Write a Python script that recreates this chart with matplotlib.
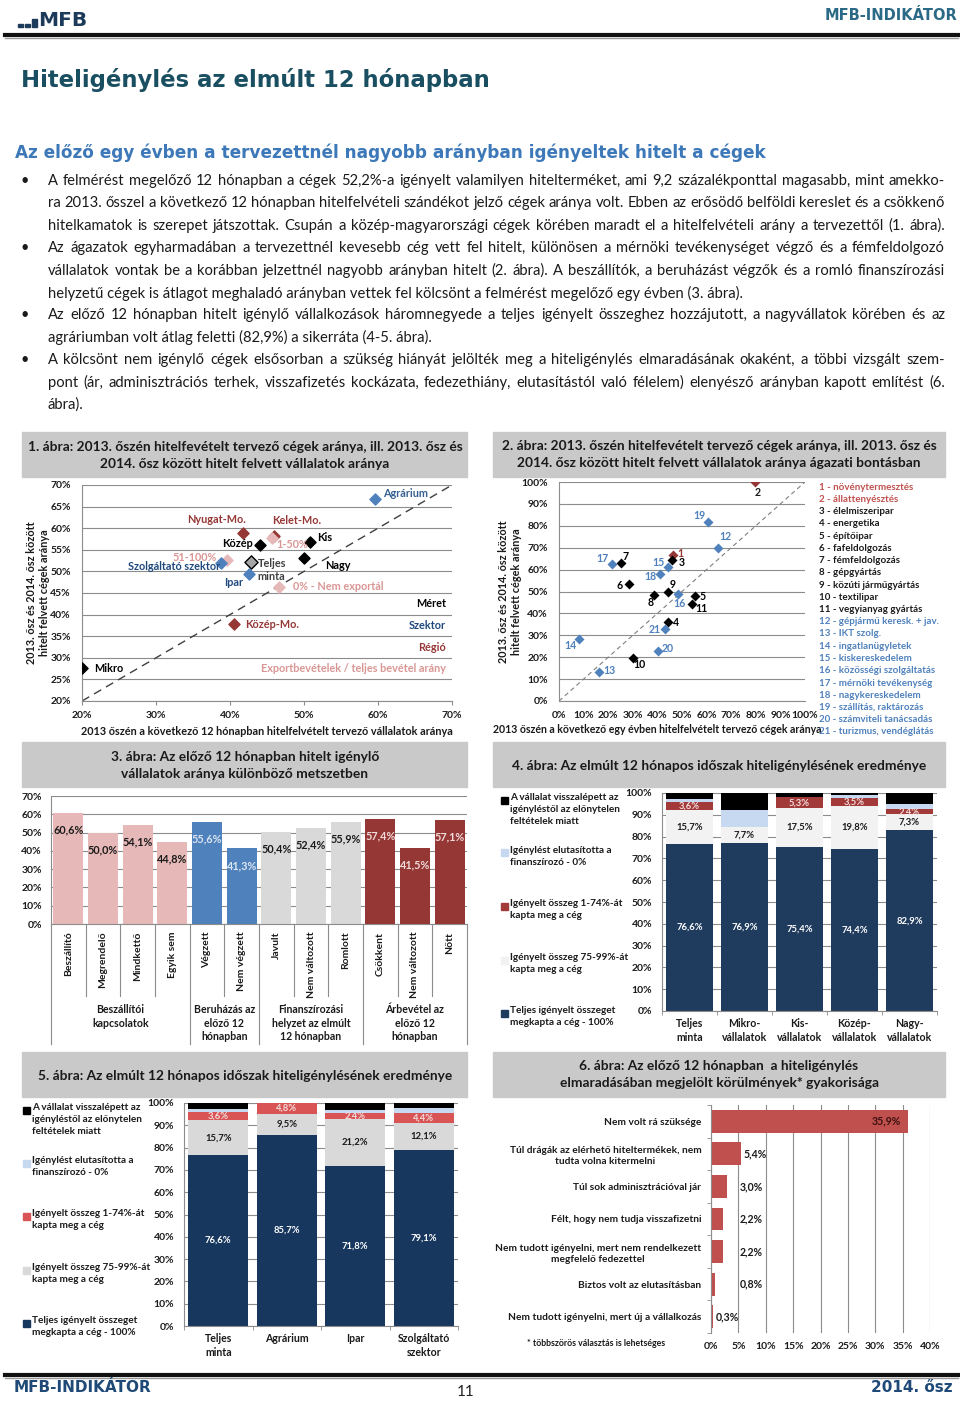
import numpy as np
import matplotlib.pyplot as plt
from matplotlib.patches import Rectangle
from matplotlib.lines import Line2D
from matplotlib.transforms import blended_transform_factory

W, H = 960, 1401

# ---- 1. ábra: régió / méret / szektor / export
c1_names = ['Agrárium', 'Nyugat-Mo.', 'Kelet-Mo.', '1-50%', 'Közép', 'Kis', 'Nagy', '51-100%',
            'Szolgáltató szektor', 'Teljes\nminta', 'Ipar', '0% - Nem exportál', 'Közép-Mo.', 'Mikro']
c1_x = [59.6, 41.8, 45.9, 45.7, 44.0, 50.8, 50.0, 39.6, 38.8, 42.8, 42.6, 46.6, 40.6, 20.0]
c1_y = [66.7, 59.0, 58.2, 57.8, 56.1, 56.8, 53.2, 52.6, 51.9, 52.1, 49.4, 46.5, 37.8, 27.6]
c1_group = ['Szektor', 'Régió', 'Régió', 'Export', 'Méret', 'Méret', 'Méret', 'Export',
            'Szektor', 'Teljes', 'Szektor', 'Export', 'Régió', 'Méret']

# ---- 2. ábra: ágazatok
c2_ids = list(range(1, 22))
c2_x = [46.2, 79.7, 45.9, 44.2, 55.1, 28.6, 25.1, 38.8, 44.4, 29.9, 54.1,
        64.5, 16.4, 8.0, 44.4, 48.5, 21.4, 41.1, 60.7, 40.1, 43.0]
c2_y = [66.6, 100.0, 64.2, 36.1, 48.0, 53.2, 63.0, 48.6, 49.8, 19.8, 44.5,
        70.0, 13.3, 28.4, 61.3, 48.8, 62.5, 57.9, 81.7, 23.0, 33.1]
c2_names = ['növénytermesztés', 'állattenyésztés', 'élelmiszeripar', 'energetika', 'építőipar',
            'fafeldolgozás', 'fémfeldolgozás', 'gépgyártás', 'közúti járműgyártás', 'textilipar',
            'vegyianyag gyártás', 'gépjármű keresk. + jav.', 'IKT szolg.', 'ingatlanügyletek',
            'kiskereskedelem', 'közösségi szolgáltatás', 'mérnöki tevékenység', 'nagykereskedelem',
            'szállítás, raktározás', 'számviteli tanácsadás', 'turizmus, vendéglátás']

# ---- 3. ábra
c3_cats = ['Beszállító', 'Megrendelő', 'Mindkettő', 'Egyik sem', 'Végzett', 'Nem végzett',
           'Javult', 'Nem változott', 'Romlott', 'Csökkent', 'Nem változott', 'Nőtt']
c3_vals = [60.6, 50.0, 54.1, 44.8, 55.6, 41.3, 50.4, 52.4, 55.9, 57.4, 41.5, 57.1]
c3_groups = ['Beszállítói\nkapcsolatok', 'Beruházás az\nelőző 12\nhónapban',
             'Finanszírozási\nhelyzet az elmúlt\n12 hónapban', 'Árbevétel az\nelőző 12\nhónapban']
c3_group_size = [4, 2, 3, 3]

# ---- 4. ábra (méret szerint)
c4_cats = ['Teljes\nminta', 'Mikro-\nvállalatok', 'Kis-\nvállalatok', 'Közép-\nvállalatok', 'Nagy-\nvállalatok']
c4_full = [76.6, 76.9, 75.4, 74.4, 82.9]
c4_most = [15.7, 7.7, 17.5, 19.8, 7.3]
c4_part = [3.6, 0.0, 5.3, 3.5, 2.4]
c4_rej = [1.5, 7.7, 0.0, 1.3, 2.4]
c4_back = [2.6, 7.7, 1.8, 1.0, 5.0]

# ---- 5. ábra (szektor szerint)
c5_cats = ['Teljes\nminta', 'Agrárium', 'Ipar', 'Szolgáltató\nszektor']
c5_full = [76.6, 85.7, 71.8, 79.1]
c5_most = [15.7, 9.5, 21.2, 12.1]
c5_part = [3.6, 4.8, 2.4, 4.4]
c5_rej = [1.5, 0.0, 1.5, 2.0]
c5_back = [2.6, 0.0, 3.1, 2.4]

leg_texts = ['A vállalat visszalépett az\nigényléstől az előnytelen\nfeltételek miatt',
             'Igénylést elutasította a\nfinanszírozó - 0%',
             'Igényelt összeg 1-74%-át\nkapta meg a cég',
             'Igényelt összeg 75-99%-át\nkapta meg a cég',
             'Teljes igényelt összeget\nmegkapta a cég - 100%']

# ---- 6. ábra
c6_cats = ['Nem volt rá szüksége',
           'Túl drágák az elérhető hiteltermékek, nem\ntudta volna kitermelni',
           'Túl sok adminisztrációval jár',
           'Félt, hogy nem tudja visszafizetni',
           'Nem tudott igényelni, mert nem rendelkezett\nmegfelelő fedezettel',
           'Biztos volt az elutasításban',
           'Nem tudott igényelni, mert új a vállalkozás']
c6_vals = [35.9, 5.4, 3.0, 2.2, 2.2, 0.8, 0.3]

body = [
    ("A felmérést megelőző 12 hónapban a cégek 52,2%-a igényelt valamilyen hitelterméket, ami 9,2 százalékponttal magasabb, mint amekko-", True, True),
    ("ra 2013. ősszel a következő 12 hónapban hitelfelvételi szándékot jelző cégek aránya volt. Ebben az erősödő belföldi kereslet és a csökkenő", False, True),
    ("hitelkamatok is szerepet játszottak. Csupán a közép-magyarországi cégek körében maradt el a hitelfelvételi arány a tervezettől (1. ábra).", False, True),
    ("Az ágazatok egyharmadában a tervezettnél kevesebb cég vett fel hitelt, különösen a mérnöki tevékenységet végző és a fémfeldolgozó", True, True),
    ("vállalatok vontak be a korábban jelzettnél nagyobb arányban hitelt (2. ábra). A beszállítók, a beruházást végzők és a romló finanszírozási", False, True),
    ("helyzetű cégek is átlagot meghaladó arányban vettek fel kölcsönt a felmérést megelőző egy évben (3. ábra).", False, False),
    ("Az előző 12 hónapban hitelt igénylő vállalkozások háromnegyede a teljes igényelt összeghez hozzájutott, a nagyvállatok körében és az", True, True),
    ("agráriumban volt átlag feletti (82,9%) a sikerráta (4-5. ábra).", False, False),
    ("A kölcsönt nem igénylő cégek elsősorban a szükség hiányát jelölték meg a hiteligénylés elmaradásának okaként, a többi vizsgált szem-", True, True),
    ("pont (ár, adminisztrációs terhek, visszafizetés kockázata, fedezethiány, elutasítástól való félelem) elenyésző arányban kapott említést (6.", False, True),
    ("ábra).", False, False),
]

plt.rcParams['font.family'] = ['Lato', 'DejaVu Sans']
plt.rcParams['font.weight'] = 'bold'
plt.rcParams['axes.linewidth'] = 0.8

fig = plt.figure(figsize=(W / 100, H / 100), dpi=100)
fig.patch.set_facecolor('white')
rend = fig.canvas.get_renderer()


def box(x0, y0, x1, y1):
    return fig.add_axes([x0 / W, 1 - y1 / H, (x1 - x0) / W, (y1 - y0) / H])


def txt(x, y, s, **kw):
    return fig.text(x / W, 1 - y / H, s, **kw)


def panel(x0, y0, x1, y1, color='#c9c9c9'):
    fig.patches.append(Rectangle((x0 / W, 1 - y1 / H), (x1 - x0) / W, (y1 - y0) / H,
                                 transform=fig.transFigure, color=color, zorder=0))


def hline(x0, x1, y, lw, color):
    fig.lines.append(Line2D([x0 / W, x1 / W], [1 - y / H, 1 - y / H],
                            transform=fig.transFigure, lw=lw, color=color))


def pct(v):
    return f"{v:.1f}".replace('.', ',') + '%'


# ---------------- header / footer
head = '#1c3a5a'
for bx, bh in [(18, 3), (25, 3), (32, 8)]:
    fig.patches.append(Rectangle((bx / W, 1 - 27 / H), 5 / W, bh / H, transform=fig.transFigure, color=head))
txt(38, 21, 'MFB', fontsize=14.5, color=head, family='DejaVu Sans', weight='bold', va='center')
txt(957, 16, 'MFB-INDIKÁTOR', fontsize=10.5, color='#2b6a86', family='DejaVu Sans', weight='bold',
    ha='right', va='center')
hline(5, 958, 35, 3.0, '#111111')
hline(5, 958, 37.5, 1.0, '#9a9a9a')

txt(21, 80, 'Hiteligénylés az elmúlt 12 hónapban', fontsize=16.4, color='#1a4f62',
    family='DejaVu Sans', weight='bold', va='center')
txt(15, 153, 'Az előző egy évben a tervezettnél nagyobb arányban igényeltek hitelt a cégek',
    fontsize=12.2, color='#3d78b9', family='DejaVu Sans', weight='bold', va='center')

# body text with justification
bx0, bx1 = 48, 945
for i, (line, bullet, just) in enumerate(body):
    y = 181 + i * 22.4
    if bullet:
        txt(20, y, '•', fontsize=10.5, color='#1a1a1a', weight='normal', va='center')
    if not just:
        txt(bx0, y, line, fontsize=10.6, color='#1a1a1a', weight='normal', va='center')
        continue
    words = line.split(' ')
    objs = [txt(0, y, w, fontsize=10.6, color='#1a1a1a', weight='normal', va='center') for w in words]
    widths = [o.get_window_extent(rend).width for o in objs]
    gap = (bx1 - bx0 - sum(widths)) / (len(words) - 1)
    xx = bx0
    for o, w in zip(objs, widths):
        o.set_x(xx / W)
        xx += w + gap

hline(5, 958, 1375, 3.0, '#111111')
hline(5, 958, 1377.5, 1.0, '#9a9a9a')
txt(14, 1388, 'MFB-INDIKÁTOR', fontsize=11, color='#1f4a78', family='DejaVu Sans', weight='bold', va='center')
txt(466, 1392, '11', fontsize=11, color='#222222', weight='normal', ha='center', va='center')
txt(953, 1388, '2014. ősz', fontsize=11, color='#1f4a78', family='DejaVu Sans', weight='bold',
    ha='right', va='center')

# ---------------- chart title panels
tfs = 9.9
panel(22, 432, 467, 477)
txt(245, 447, '1. ábra: 2013. őszén hitelfevételt tervező cégek aránya, ill. 2013. ősz és', fontsize=tfs, ha='center', va='center', color='#1a1a1a')
txt(245, 464, '2014. ősz között hitelt felvett vállalatok aránya', fontsize=tfs, ha='center', va='center', color='#1a1a1a')
panel(493, 432, 945, 477)
txt(719, 446, '2. ábra: 2013. őszén hitelfevételt tervező cégek aránya, ill. 2013. ősz és', fontsize=tfs, ha='center', va='center', color='#1a1a1a')
txt(719, 463, '2014. ősz között hitelt felvett vállalatok aránya ágazati bontásban', fontsize=tfs, ha='center', va='center', color='#1a1a1a')
panel(22, 742, 467, 787)
txt(245, 757, '3. ábra: Az előző 12 hónapban hitelt igénylő', fontsize=tfs, ha='center', va='center', color='#1a1a1a')
txt(245, 774, 'vállalatok aránya különböző metszetben', fontsize=tfs, ha='center', va='center', color='#1a1a1a')
panel(493, 742, 945, 787)
txt(719, 766, '4. ábra: Az elmúlt 12 hónapos időszak hiteligénylésének eredménye', fontsize=tfs, ha='center', va='center', color='#1a1a1a')
panel(22, 1052, 467, 1097)
txt(245, 1076, '5. ábra: Az elmúlt 12 hónapos időszak hiteligénylésének eredménye', fontsize=tfs, ha='center', va='center', color='#1a1a1a')
panel(493, 1052, 945, 1097)
txt(719, 1066, '6. ábra: Az előző 12 hónapban  a hiteligénylés', fontsize=tfs, ha='center', va='center', color='#1a1a1a')
txt(719, 1083, 'elmaradásában megjelölt körülmények* gyakorisága', fontsize=tfs, ha='center', va='center', color='#1a1a1a')

grid_c = '#8c8c8c'


def style(ax):
    ax.set_facecolor('none')
    for s in ['top', 'right']:
        ax.spines[s].set_visible(False)
    for s in ['left', 'bottom']:
        ax.spines[s].set_color(grid_c)
    ax.tick_params(colors=grid_c, labelcolor='#1a1a1a', labelsize=7.5, length=3, width=0.8)


# ---------------- 1. ábra
ax1 = box(82, 485, 452, 701)
style(ax1)
mcol = {'Méret': '#000000', 'Szektor': '#4f81bd', 'Régió': '#953735', 'Export': '#e6b9b8', 'Teljes': '#a6a6a6'}
tcol = {'Méret': '#000000', 'Szektor': '#1f497d', 'Régió': '#953735', 'Export': '#d99694', 'Teljes': '#404040'}
c1_off = [(8, 6, 'left'), (-27, 13, 'center'), (23, 15, 'center'), (4, -7, 'left'), (-7, 2, 'right'),
          (7, 5, 'left'), (21, -8, 'left'), (-10, 3, 'right'), (-1, -3, 'right'), (7, -8, 'left'),
          (-6, -9, 'right'), (14, 0, 'left'), (11, 0, 'left'), (12, 0, 'left')]
ax1.plot([20, 70], [20, 70], ls=(0, (6, 4)), color='#404040', lw=1.0, zorder=1)
for n, x, y, g, (dx, dy, ha) in zip(c1_names, c1_x, c1_y, c1_group, c1_off):
    ec = '#000000' if g == 'Teljes' else mcol[g]
    sz = 45 if g == 'Teljes' else 32
    lc = '#376092' if n == 'Agrárium' else tcol[g]
    ax1.scatter([x], [y], marker='D', s=sz, color=mcol[g], edgecolor=ec, linewidth=1.0, zorder=3)
    ax1.annotate(n, (x, y), xytext=(dx, dy), textcoords='offset pixels', ha=ha, va='center',
                 fontsize=7.8, color=lc, zorder=4)
for lab, gy, g in [('Méret', 42.6, 'Méret'), ('Szektor', 37.4, 'Szektor'), ('Régió', 32.3, 'Régió'),
                   ('Exportbevételek / teljes bevétel arány', 27.5, 'Export')]:
    ax1.text(69.2, gy, lab, ha='right', va='center', fontsize=7.8, color=tcol[g])
ax1.set_xlim(20, 70)
ax1.set_ylim(20, 70)
ax1.set_xticks(np.arange(20, 71, 10))
ax1.set_xticklabels([f'{v}%' for v in range(20, 71, 10)])
ax1.set_yticks(np.arange(20, 71, 5))
ax1.set_yticklabels([f'{v}%' for v in range(20, 71, 5)])
ax1.tick_params(axis='y', length=0, pad=8)
ax1.tick_params(axis='x', pad=4)
ax1.yaxis.grid(True, color=grid_c, lw=0.8)
ax1.set_axisbelow(True)
txt(38, 593, '2013. ősz és 2014. ősz között\nhitelt felvett cégek aránya', rotation=90, fontsize=7.8,
    ha='center', va='center', color='#1a1a1a', linespacing=1.15)
txt(267, 732, '2013 őszén a következő 12 hónapban hitelfelvételt tervező vállalatok aránya', fontsize=7.8,
    ha='center', va='center', color='#1a1a1a')

# ---------------- 2. ábra
ax2 = box(559, 482, 805, 701)
style(ax2)
ax2.plot([0, 100], [0, 100], ls=(0, (4, 3)), color='#7f7f7f', lw=0.8, zorder=1)
c2_off = [(8, 2), (3, -10), (10, -2), (8, -1), (8, -1), (-10, -1), (5, 7), (-4, -8), (4, 7), (7, -7),
          (9, -5), (8, 11), (10, 1), (-8, -7), (-10, 4), (1, -9), (-9, 6), (-10, -2), (-9, 7), (10, 2), (-10, -1)]
for i, x, y, (dx, dy) in zip(c2_ids, c2_x, c2_y, c2_off):
    if i <= 2:
        mc, lc = '#953735', ('#953735' if i == 1 else '#1a1a1a')
    elif i <= 11:
        mc, lc = '#000000', '#000000'
    else:
        mc, lc = '#4f81bd', '#4f81bd'
    ax2.scatter([x], [y], marker='D', s=26, color=mc, zorder=3, linewidth=0)
    ax2.annotate(str(i), (x, y), xytext=(dx, dy), textcoords='offset pixels', ha='center', va='center',
                 fontsize=7.6, color=lc)
ax2.set_xlim(0, 100)
ax2.set_ylim(0, 100)
ax2.set_xticks(np.arange(0, 101, 10))
ax2.set_xticklabels([f'{v}%' for v in range(0, 101, 10)])
ax2.set_yticks(np.arange(0, 101, 10))
ax2.set_yticklabels([f'{v}%' for v in range(0, 101, 10)])
ax2.tick_params(axis='y', length=0, pad=8)
ax2.tick_params(axis='x', length=0, pad=7)
ax2.yaxis.grid(True, color=grid_c, lw=0.8)
ax2.set_axisbelow(True)
txt(510, 592, '2013. ősz és 2014. ősz között\nhitelt felvett cégek aránya', rotation=90, fontsize=7.8,
    ha='center', va='center', color='#1a1a1a', linespacing=1.15)
txt(657, 729, '2013 őszén a következő egy évben hitelfelvételt tervező cégek aránya', fontsize=7.6,
    ha='center', va='center', color='#1a1a1a')
for k, (i, n) in enumerate(zip(c2_ids, c2_names)):
    col = '#c0504d' if i <= 2 else ('#1a1a1a' if i <= 11 else '#4f81bd')
    txt(819, 487 + k * 12.25, f'{i} - {n}', fontsize=7.0, color=col, va='center')

# ---------------- 3. ábra
ax3 = box(51, 796, 467, 924)
style(ax3)
c3_colors = ['#e6b9b8'] * 4 + ['#4f81bd'] * 2 + ['#d9d9d9'] * 3 + ['#953735'] * 3
c3_tcol = ['#1a1a1a'] * 4 + ['#dce6f2'] * 2 + ['#1a1a1a'] * 3 + ['#f2dcdb'] * 3
xs = np.arange(len(c3_vals))
ax3.bar(xs, c3_vals, width=0.87, color=c3_colors, zorder=2)
for x, v, tc in zip(xs, c3_vals, c3_tcol):
    ax3.annotate(pct(v), (x, v), xytext=(0, -17), textcoords='offset pixels', ha='center', va='center',
                 fontsize=7.8, color=tc, zorder=3)
ax3.set_xlim(-0.5, len(c3_vals) - 0.5)
ax3.set_ylim(0, 70)
ax3.set_yticks(np.arange(0, 71, 10))
ax3.set_yticklabels([f'{v}%' for v in range(0, 71, 10)])
ax3.tick_params(axis='y', length=0, pad=6.5)
ax3.set_xticks(xs)
ax3.set_xticklabels(c3_cats, rotation=90, fontsize=7.5)
ax3.tick_params(axis='x', length=0, pad=5.5)
ax3.yaxis.grid(True, color=grid_c, lw=0.8)
ax3.set_axisbelow(True)
tr3 = blended_transform_factory(ax3.transData, ax3.transAxes)
bounds = np.cumsum([0] + c3_group_size) - 0.5
for b in np.arange(-0.5, len(c3_vals), 1.0):
    depth = 120 if np.any(np.isclose(bounds, b)) else 72
    ax3.add_line(Line2D([b, b], [0, -depth / 128], transform=tr3, color=grid_c, lw=0.8, clip_on=False))
for g, lo, hi in zip(c3_groups, bounds[:-1], bounds[1:]):
    ax3.annotate(g, ((lo + hi) / 2, 0), xycoords=tr3, xytext=(0, -80), textcoords='offset pixels',
                 ha='center', va='top', fontsize=7.6, color='#1a1a1a', linespacing=1.3)


# ---------------- 4. / 5. ábra
def stacked(ax, cats, full, most, part, rej, back, cols):
    style(ax)
    xs = np.arange(len(cats))
    bottom = np.zeros(len(cats))
    for vals, c in zip([full, most, part, rej, back], cols):
        ax.bar(xs, vals, bottom=bottom, width=0.87, color=c, zorder=2)
        bottom += np.array(vals)
    for x, f, m, p in zip(xs, full, most, part):
        ax.text(x, f / 2, pct(f), ha='center', va='center', fontsize=6.8, color='white', zorder=3)
        ax.text(x, f + m / 2, pct(m), ha='center', va='center', fontsize=6.8, color='#1a1a1a', zorder=3)
        if p > 0:
            ax.text(x, f + m + p / 2, pct(p), ha='center', va='center', fontsize=6.8, color='#f2dcdb', zorder=3)
    ax.set_xlim(-0.5, len(cats) - 0.5)
    ax.set_ylim(0, 100)
    ax.set_yticks(np.arange(0, 101, 10))
    ax.set_yticklabels([f'{v}%' for v in range(0, 101, 10)])
    ax.tick_params(axis='y', length=0, pad=7)
    ax.set_xticks(xs)
    ax.set_xticklabels(cats, fontsize=7.6, linespacing=1.3)
    ax.set_xticks(np.arange(-0.5, len(cats), 1.0), minor=True)
    ax.tick_params(axis='x', which='major', length=0, pad=5)
    ax.tick_params(axis='x', which='minor', length=3, color=grid_c)
    ax.yaxis.grid(True, color=grid_c, lw=0.8)
    ax.set_axisbelow(True)


def legend_block(x, y0, cols):
    ys = [0, 53, 106, 160, 213]
    for t, c, dy in zip(leg_texts, cols[::-1], ys):
        fig.patches.append(Rectangle(((x - 3.5) / W, 1 - (y0 + dy + 3.5) / H), 7 / W, 7 / H,
                                     transform=fig.transFigure, color=c))
        txt(x + 6, y0 + dy - 7, t, fontsize=7.2, color='#1a1a1a', va='top', linespacing=1.4)


c4_cols = ['#1f3b5e', '#f2f2f2', '#a33a3a', '#c6d9f1', '#000000']
ax4 = box(662, 793, 937, 1011)
stacked(ax4, c4_cats, c4_full, c4_most, c4_part, c4_rej, c4_back, c4_cols)
legend_block(504, 800, c4_cols)

c5_cols = ['#17375e', '#d9d9d9', '#d95555', '#c6d9f1', '#000000']
ax5 = box(184, 1103, 458, 1326)
stacked(ax5, c5_cats, c5_full, c5_most, c5_part, c5_rej, c5_back, c5_cols)
legend_block(26, 1110, c5_cols)

# ---------------- 6. ábra
ax6 = box(711, 1105, 930, 1333)
style(ax6)
ys = np.arange(len(c6_vals))
ax6.barh(ys, c6_vals, height=0.7, color='#c0504d', zorder=2)
for y, v in zip(ys, c6_vals):
    if v > 30:
        ax6.text(v - 1.2, y, pct(v), ha='right', va='center', fontsize=7.6, color='#3a1010', zorder=3)
    else:
        lx = v + 0.5 if (v >= 5 or v < 0.5) else 5.3
        ax6.text(lx, y, pct(v), ha='left', va='center', fontsize=7.6, color='#1a1a1a', zorder=3)
ax6.set_xlim(0, 40)
ax6.set_ylim(len(c6_vals) - 0.5, -0.5)
ax6.set_xticks(np.arange(0, 41, 5))
ax6.set_xticklabels([f'{v}%' for v in range(0, 41, 5)])
ax6.tick_params(axis='x', length=0, pad=6.5)
ax6.spines['bottom'].set_visible(False)
ax6.set_yticks(ys)
ax6.set_yticklabels(c6_cats, fontsize=7.3, multialignment='center', linespacing=1.3)
ax6.set_yticks(np.arange(-0.5, len(c6_vals), 1.0), minor=True)
ax6.tick_params(axis='y', which='major', length=0, pad=7)
ax6.tick_params(axis='y', which='minor', length=3, color=grid_c)
ax6.xaxis.grid(True, color=grid_c, lw=0.8)
ax6.set_axisbelow(True)
txt(527, 1343, '* többszörös választás is lehetséges', fontsize=6.3, color='#1a1a1a', va='center')

fig.savefig('out.png', dpi=100)
